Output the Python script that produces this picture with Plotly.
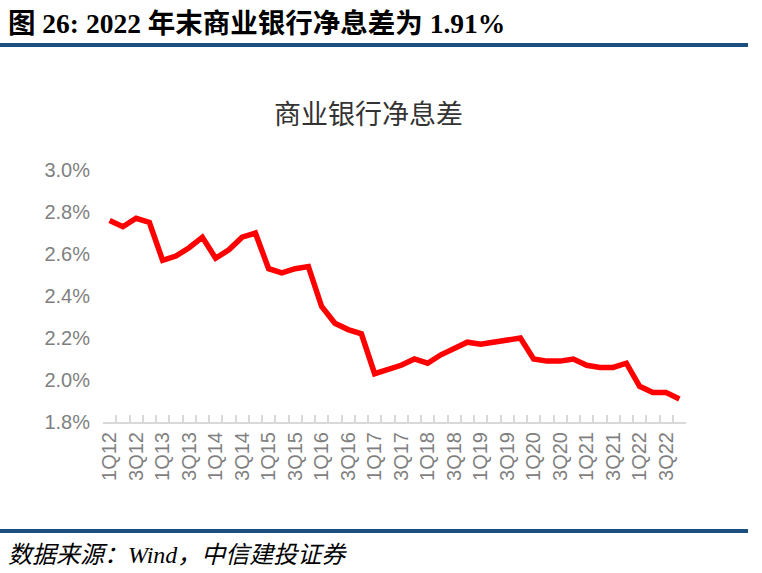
import plotly.graph_objects as go

quarters = [f"{q}Q{y}" for y in range(12, 23) for q in range(1, 5)]
nim = [2.76, 2.73, 2.77, 2.75,
       2.57, 2.59, 2.63, 2.68,
       2.58, 2.62, 2.68, 2.70,
       2.53, 2.51, 2.53, 2.54,
       2.35, 2.27, 2.24, 2.22,
       2.03, 2.05, 2.07, 2.10,
       2.08, 2.12, 2.15, 2.18,
       2.17, 2.18, 2.19, 2.20,
       2.10, 2.09, 2.09, 2.10,
       2.07, 2.06, 2.06, 2.08,
       1.97, 1.94, 1.94, 1.91]
tick_text = [q if q[0] in "13" else "" for q in quarters]
y_ticks = [1.8, 2.0, 2.2, 2.4, 2.6, 2.8, 3.0]
y_tick_text = [f"{v:.1f}%" for v in y_ticks]

fig = go.Figure()
fig.add_trace(go.Scatter(x=quarters, y=nim, mode="lines",
                         line=dict(color="#ff0000", width=5.5),
                         hoverinfo="x+y"))

serif = "Liberation Serif, Times New Roman, Noto Sans CJK SC"
sans = "Liberation Sans, Arial, Noto Sans CJK SC"

PL, PR, PT, PB = 103, 686, 170, 422
PW, PH = PR - PL, PB - PT

fig.update_layout(
    width=762, height=573,
    margin=dict(l=PL, r=762 - PR, t=PT, b=573 - PB),
    paper_bgcolor="white", plot_bgcolor="white",
    showlegend=False,
    xaxis=dict(type="category", tickmode="array", tickvals=quarters, ticktext=tick_text,
               tickson="boundaries", ticks="inside", ticklen=7, tickwidth=1.5,
               tickcolor="#d9d9d9", showline=True, linecolor="#d9d9d9", linewidth=2,
               showgrid=False, tickangle=-90,
               tickfont=dict(family=sans, size=20, color="#7f7f7f"),
               range=[-0.5, 43.5], fixedrange=True),
    yaxis=dict(range=[1.8, 3.0], tickmode="array", tickvals=y_ticks, ticktext=y_tick_text,
               showgrid=False, zeroline=False, showline=False, ticks="",
               tickfont=dict(family=sans, size=20, color="#7f7f7f"),
               ticklabelstandoff=12),
    font=dict(family=sans),
)


def px_x(x):
    return (x - PL) / PW


def px_y(y):
    return (PB - y) / PH


fig.add_annotation(text="<b>图 26: 2022 年末商业银行净息差为 1.91%</b>", xref="paper", yref="paper",
                   x=px_x(6), y=px_y(23), xanchor="left", yanchor="middle",
                   showarrow=False, font=dict(family=serif, size=27.5, color="#000000"))
fig.add_annotation(text="商业银行净息差", xref="paper", yref="paper",
                   x=px_x(368), y=px_y(113), xanchor="center", yanchor="middle",
                   showarrow=False, font=dict(family="Noto Sans CJK SC", size=27, color="#333333"))
fig.add_annotation(text="<i>数据来源：Wind，中信建投证券</i>", xref="paper", yref="paper",
                   x=px_x(6), y=px_y(555), xanchor="left", yanchor="middle",
                   showarrow=False, font=dict(family=serif, size=24, color="#000000"))

for yp in (45, 531):
    fig.add_shape(type="line", xref="paper", yref="paper",
                  x0=px_x(0), x1=px_x(748), y0=px_y(yp), y1=px_y(yp),
                  line=dict(color="#1a4f7f", width=4))

fig.write_html("out.html", config={"displayModeBar": False},
               post_script="document.body.style.margin='0';document.body.style.padding='0';")
